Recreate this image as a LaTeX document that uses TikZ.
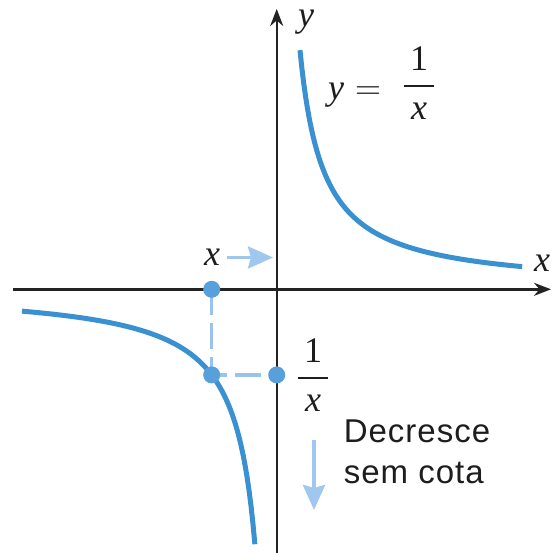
\RequirePackage{fix-cm}
\documentclass[tikz,border=0pt]{standalone}
\usepackage{fontspec}
\setmainfont{Liberation Serif}
\newfontfamily\sansf[LetterSpace=3]{Liberation Sans}
\usetikzlibrary{arrows.meta}
\definecolor{curveblue}{RGB}{58,145,210}
\definecolor{lightblue}{RGB}{152,195,236}
\definecolor{hintblue}{RGB}{160,200,238}
\definecolor{dotblue}{RGB}{88,160,220}
\definecolor{axisgray}{RGB}{35,35,35}
\definecolor{inkc}{RGB}{30,28,30}
\newcommand{\myfrac}{\(\displaystyle{\mkern3mu\textrm{1}\mkern3mu\above 2.2pt\mkern3mu\textit{x}\mkern3mu}\)}
\begin{document}
\begin{tikzpicture}[x=1pt,y=-1pt,
  axis/.style={draw=axisgray,line width=2.4pt,-{Stealth[length=17pt,width=13pt]}},
  curve/.style={draw=curveblue,line width=5pt},
  guide/.style={draw=lightblue,line width=3.2pt,dash pattern=on 26pt off 8pt},
  hint/.style={draw=hintblue,line width=3.5pt,-{Stealth[length=25pt,width=22pt,inset=3pt]}},
  dot/.style={circle,fill=dotblue,inner sep=0pt,minimum size=17pt},
  mlab/.style={text=inkc,font=\fontsize{36}{40}\selectfont,inner sep=0pt},
  slab/.style={text=inkc,font=\fontsize{33}{41}\selectfont\sansf,align=left,inner sep=0pt}]
\useasboundingbox (0,0) rectangle (552,553);
% axes
\coordinate (xl) at (13,289.3);
\coordinate (xr) at (551,289.3);
\coordinate (yb) at (276.7,553);
\coordinate (yt) at (276.7,9);
\draw[axis] (xl) -- (xr);
\draw[axis] (yb) -- (yt);
% curves y = 1/x
\draw[curve] plot[domain=0.312:3.29,samples=120] ({276.7+74.6*\x},{289.3-74.6/\x});
\draw[curve] plot[domain=-3.414:-0.291,samples=120] ({276.7+74.6*\x},{289.3-74.6/\x});
% dashed guides and points
\coordinate (cx) at (211.7,289.3);
\coordinate (cc) at (211.7,374.9);
\coordinate (cy) at (276.7,374.9);
\draw[guide] (cx) -- (cc);
\draw[guide,dash phase=10.7pt] (cc) -- (cy);
\node[dot] (px) at (cx) {};
\node[dot] (pc) at (cc) {};
\node[dot] (py) at (cy) {};
% labels
\node[mlab,anchor=base] (xlab) at (542,271) {\textit{x}};
\node[mlab,anchor=base] (ylab) at (306,27) {\textit{y}};
\node[mlab,anchor=base west] (eqy) at (328,100) {\textit{y}};
\node[mlab,anchor=base west] (eqs) at (355,100) {\(=\)};
\node[mlab] (eqf) at (419,83) {\myfrac};
\node[mlab] (xa) at (212,257) {\textit{x}};
\coordinate (xas) at (227,257.5);
\coordinate (xat) at (273,257.5);
\draw[hint] (xas) -- (xat);
\node[mlab] (fr) at (313,375) {\myfrac};
\node[slab] (dec) at (417,452) {Decresce\\sem cota};
\coordinate (da) at (314,440);
\coordinate (db) at (314,510);
\draw[hint] (da) -- (db);
\end{tikzpicture}
\end{document}
